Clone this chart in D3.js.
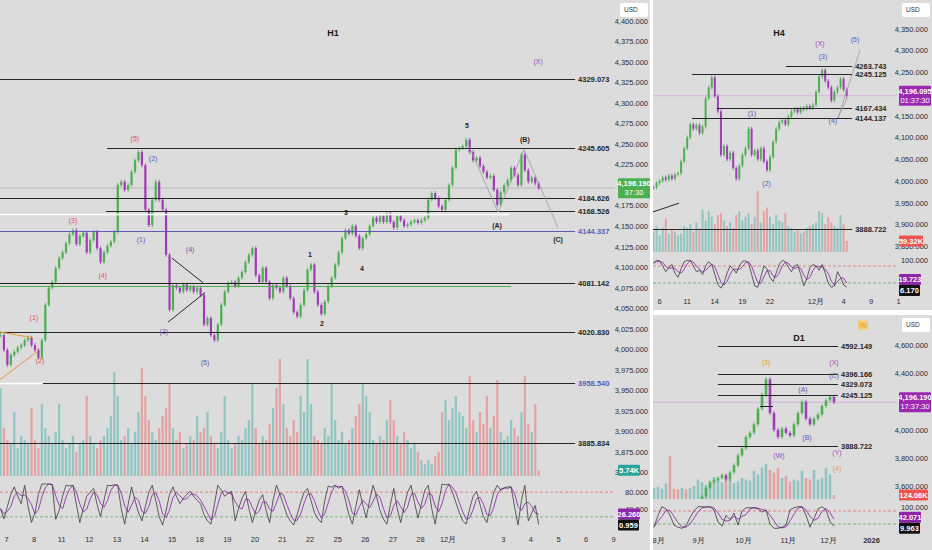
<!DOCTYPE html>
<html>
<head>
<meta charset="utf-8">
<script src="https://cdn.jsdelivr.net/npm/d3@7"></script>
<style>
  html, body { margin: 0; padding: 0; background: #ffffff; }
  svg { display: block; }
</style>
</head>
<body>
<div id="chart"></div>
<script>
// ---- H1 data, 8 bars per trading day ----
var h1Closes = [
  4017, 3999, 3981, 3993, 3997, 4002, 4005, 4011, 4014, 4005,
  3999, 3990, 4011, 4054, 4075, 4082, 4099, 4111, 4118, 4129,
  4140, 4145, 4128, 4138, 4142, 4118, 4133, 4143, 4123, 4106,
  4118, 4126, 4131, 4143, 4200, 4204, 4194, 4200, 4216, 4230,
  4240, 4224, 4170, 4151, 4182, 4204, 4182, 4170, 4115, 4048,
  4078, 4075, 4070, 4079, 4072, 4076, 4070, 4075, 4066, 4030,
  4038, 4017, 4011, 4030, 4054, 4070, 4081, 4082, 4077, 4087,
  4094, 4106, 4115, 4123, 4090, 4082, 4099, 4082, 4062, 4078,
  4075, 4070, 4087, 4077, 4062, 4045, 4040, 4054, 4072, 4097,
  4103, 4070, 4054, 4043, 4058, 4077, 4087, 4103, 4118, 4135,
  4145, 4141, 4150, 4138, 4123, 4135, 4140, 4150, 4160, 4155,
  4162, 4155, 4165, 4155, 4148, 4162, 4157, 4150, 4152, 4155,
  4157, 4154, 4157, 4160, 4182, 4190, 4184, 4174, 4170, 4182,
  4200, 4221, 4243, 4245, 4247, 4255, 4240, 4230, 4233, 4223,
  4216, 4209, 4211, 4194, 4176, 4191, 4200, 4206, 4221, 4212,
  4200, 4237, 4218, 4204, 4209, 4202, 4196.19
];
// volume in K
var h1Volume = [
  88, 48, 36, 32, 64, 28, 40, 36, 32, 68,
  36, 28, 72, 48, 40, 32, 44, 72, 36, 28,
  32, 40, 24, 32, 36, 80, 40, 32, 28, 36,
  40, 48, 60, 104, 80, 36, 40, 48, 32, 44,
  64, 108, 80, 56, 44, 36, 48, 60, 68, 92,
  48, 36, 44, 28, 32, 40, 36, 60, 44, 48,
  64, 40, 32, 28, 44, 80, 36, 28, 32, 40,
  36, 48, 56, 92, 48, 32, 40, 36, 52, 68,
  88, 117, 72, 48, 40, 56, 44, 80, 64, 117,
  72, 40, 36, 32, 48, 40, 92, 56, 36, 44,
  32, 36, 48, 60, 72, 92, 80, 64, 36, 32,
  40, 36, 56, 76, 56, 40, 32, 44, 36, 28,
  32, 24, 16, 12, 16, 12, 20, 24, 64, 76,
  56, 68, 80, 64, 60, 48, 100, 56, 44, 64,
  52, 80, 48, 60, 96, 44, 36, 40, 56, 48,
  40, 64, 100, 52, 44, 72, 5.74
];
// stochastic %K
var h1Stoch = [
  40, 15, 45, 75, 93, 70, 52, 97, 45, 6,
  30, 75, 100, 100, 100, 98, 14, 35, 70, 97,
  95, 97, 50, 6, 40, 70, 80, 89, 50, 20,
  60, 97, 96, 98, 97, 40, 2, 50, 93, 60,
  30, 10, 45, 80, 97, 60, 20, 0, 35, 75,
  93, 70, 52, 65, 75, 82, 70, 60, 52, 25,
  10, 2, 50, 97, 85, 70, 78, 82, 10, 40,
  65, 82, 40, 6, 35, 60, 74, 35, 6, 60,
  97, 75, 50, 25, 10, 0, 25, 55, 80, 89,
  60, 30, 15, 6, 60, 95, 92, 97, 90, 95,
  60, 25, 2, 45, 86, 50, 17, 60, 97, 70,
  35, 15, 2, 50, 89, 40, 6, 45, 80, 97,
  55, 17, 50, 85, 97, 40, 2, 55, 100, 98,
  100, 80, 55, 30, 10, 2, 40, 70, 82, 50,
  20, 6, 45, 80, 97, 85, 90, 93, 93, 45,
  0, 60, 97, 10, 30, 47.82, 0.959
];
var h1PriceTicks = [3850, 3875, 3900, 3925, 3950, 3975, 4000, 4025, 4050, 4075, 4100,
  4125, 4150, 4175, 4225, 4250, 4275, 4300, 4325, 4350, 4375, 4400];
var h1StochTicks = [80, 40];
var h1TickDays = [0, 1, 2, 3, 4, 5, 6, 7, 8, 9, 10, 11, 12, 13, 14, 15, 16, 18, 19, 20, 21, 22];
var h1TickLabels = ['7', '8', '11', '12', '13', '14', '15', '18', '19', '20', '21', '22',
  '25', '26', '27', '28', '12月', '3', '4', '5', '6', '9'];

// ---- H4 data, 3 bars per trading day ----
var h4Closes = [
  3985, 3995, 4000, 4008, 4003, 4012, 4005, 4015, 4018, 4045,
  4075, 4100, 4130, 4120, 4128, 4110, 4125, 4190, 4215, 4238,
  4195, 4160, 4060, 4080, 4050, 4065, 4030, 4005, 4035, 4060,
  4075, 4120, 4060, 4070, 4050, 4075, 4045, 4025, 4055, 4090,
  4120, 4135, 4140, 4130, 4148, 4160, 4165, 4158, 4168, 4165,
  4172, 4168, 4175, 4205, 4240, 4255, 4230, 4215, 4185, 4205,
  4215, 4235, 4210, 4196.095
];
var h4Volume = [
  110, 140, 90, 130, 180, 100, 120, 110, 90, 100,
  140, 130, 150, 110, 160, 130, 230, 170, 220, 190,
  150, 200, 210, 170, 140, 160, 130, 200, 220, 170,
  190, 210, 150, 190, 330, 160, 220, 240, 190, 150,
  200, 170, 160, 210, 140, 130, 110, 120, 100, 110,
  130, 140, 150, 160, 220, 210, 150, 190, 160, 140,
  130, 200, 150, 59.32
];
var h4Stoch = [
  90, 100, 98, 80, 60, 75, 85, 55, 40, 70,
  95, 100, 100, 80, 60, 65, 50, 80, 95, 85,
  50, 15, 2, 20, 55, 80, 70, 55, 80, 96,
  98, 90, 50, 10, 5, 40, 80, 70, 40, 25,
  55, 85, 100, 95, 75, 60, 80, 85, 50, 10,
  35, 75, 85, 80, 65, 85, 55, 20, 5, 10,
  60, 40, 13, 6.17
];
var h4PriceTicks = [3850, 3900, 3950, 4000, 4050, 4100, 4150, 4250, 4300, 4350];
var h4StochTicks = [100];
var h4TickDays = [0, 3, 6, 9, 12, 17, 20, 23, 26];
var h4TickLabels = ['6', '11', '14', '19', '22', '12月', '4', '9', '1'];

// ---- D1 data, one bar per 2 trading days ----
var d1Closes = [
  3290, 3360, 3380, 3390, 3350, 3340, 3330, 3380, 3370, 3400,
  3440, 3480, 3530, 3590, 3630, 3645, 3660, 3680, 3650, 3700,
  3750, 3820, 3870, 3950, 3980, 4040, 4150, 4250, 4360, 4120,
  4000, 3950, 4010, 3980, 3960, 4040, 4120, 4200, 4080, 4040,
  4080, 4110, 4170, 4210, 4235, 4196.19
];
var d1Volume = [
  350, 380, 320, 480, 1330, 320, 300, 350, 300, 330,
  400, 600, 520, 430, 540, 680, 600, 520, 650, 600,
  490, 540, 650, 600, 570, 870, 760, 980, 1090, 900,
  820, 950, 650, 710, 540, 600, 570, 870, 650, 600,
  900, 600, 650, 950, 760, 124.06
];
var d1Stoch = [
  5, 60, 100, 90, 60, 15, 5, 0, 10, 50,
  80, 100, 100, 98, 100, 85, 30, 10, 60, 40,
  70, 15, 80, 95, 95, 95, 90, 75, 85, 20,
  0, 0, 5, 15, 85, 95, 100, 100, 60, 5,
  45, 90, 100, 85, 31.25, 9.963
];
var d1PriceTicks = [3600, 3800, 4000, 4400, 4600];
var d1StochTicks = [100];
var d1TickDays = [1, 21, 43.5, 66, 86, 107.5];
var d1TickLabels = ['8月', '9月', '10月', '11月', '12月', '2026'];

// ---- drawings: levels, wave counts, trend lines ----
var h1Levels = [
  { p: 4329.073, from: -0.3, kind: 'black', label: true },
  { p: 4245.605, from: 3.66, kind: 'black', label: true },
  { p: 4184.626, from: -0.3, kind: 'black', label: true },
  { p: 4165, from: -0.3, to: 18.26, kind: 'white' },
  { p: 4168.526, from: 3.62, kind: 'black', label: true },
  { p: 4144.337, from: -0.3, kind: 'blue', label: true },
  { p: 4081.142, from: -0.3, kind: 'black', label: true },
  { p: 4077, from: -0.3, to: 18.3, kind: 'green' },
  { p: 4020.830, from: -0.3, kind: 'black', label: true },
  { p: 3958.540, from: -0.3, to: 1.34, kind: 'white' },
  { p: 3958.540, from: 1.34, kind: 'black', label: true, labelKind: 'blue' },
  { p: 3885.834, from: -0.3, kind: 'black', label: true }
];
var h1Waves = [
  ['(1)', 1.01, 4039, 'red'], ['(2)', 1.23, 3986, 'red'], ['(3)', 2.43, 4157, 'red'],
  ['(4)', 3.51, 4090, 'red'], ['(5)', 4.67, 4256, 'red'],
  ['(1)', 4.89, 4133, 'blue'], ['(2)', 5.33, 4232, 'blue'], ['(3)', 5.72, 4021, 'blue'],
  ['(4)', 6.67, 4122, 'blue'], ['(5)', 7.21, 3984, 'blue'],
  ['1', 11.01, 4115, 'black'], ['2', 11.45, 4031, 'black'], ['3', 12.32, 4167, 'black'],
  ['4', 12.9, 4098, 'black'], ['5', 16.7, 4272, 'black'],
  ['(A)', 17.79, 4151, 'black'], ['(B)', 18.8, 4255, 'black'], ['(C)', 20, 4134, 'black'],
  ['(X)', 19.28, 4350, 'purple']
];
var h1Paths = [
  { kind: 'gray', pts: [[16.67, 4255], [17.83, 4167], [18.77, 4243], [20, 4148]] },
  { kind: 'black', pts: [[6.01, 4111], [7.14, 4081]] },
  { kind: 'black', pts: [[5.87, 4033], [7.21, 4069]] },
  { kind: 'orange', pts: [[-0.22, 4021], [0.98, 4014]] },
  { kind: 'orange', pts: [[-0.22, 3963], [1.16, 3998]] }
];

var h4Levels = [
  { p: 4263.743, from: 13.8, kind: 'black', label: true },
  { p: 4245.125, from: 3.6, kind: 'black', label: true },
  { p: 4167.434, from: 6.3, kind: 'black', label: true },
  { p: 4144.137, from: 3.6, kind: 'black', label: true },
  { p: 3888.722, from: -0.7, kind: 'black', label: true }
];
var h4Waves = [
  ['(X)', 17.5, 4315, 'purple'], ['(3)', 17.83, 4285, 'blue'], ['(5)', 21.3, 4326, 'blue'],
  ['(1)', 10.1, 4156, 'blue'], ['(4)', 18.9, 4138, 'blue'], ['(2)', 11.7, 3995, 'blue']
];
var h4Paths = [
  { kind: 'black', pts: [[-0.65, 3929], [2.17, 3949]] },
  { kind: 'gray', pts: [[20.5, 4193], [19.46, 4145], [21.85, 4301]] }
];

var d1Levels = [
  { p: 4592.149, from: 31, kind: 'black', label: true },
  { p: 4396.166, from: 31, kind: 'black', label: true },
  { p: 4329.073, from: 31, kind: 'black', label: true },
  { p: 4245.125, from: 31, kind: 'black', label: true },
  { p: 3888.722, from: 31, kind: 'black', label: true },
  { p: 4170, from: 52, to: 58.5, kind: 'black' }
];
var d1Waves = [
  ['(5)', 103.5, 4743, 'orange', true], ['(3)', 55, 4474, 'orange'], ['(X)', 89, 4481, 'purple'],
  ['(C)', 89, 4389, 'blue'], ['(A)', 73.5, 4283, 'blue'], ['(B)', 75.5, 3950, 'blue'],
  ['(W)', 61.5, 3816, 'purple'], ['(Y)', 90.5, 3837, 'purple'], ['(4)', 90.5, 3724, 'orange']
];

var FONT = '"Liberation Sans Narrow", "Liberation Sans", Arial, sans-serif';
var COLORS = {
  bg: '#dcdcdc',
  up: '#4caf50',
  down: '#a23bb8',
  volUp: 'rgba(38,166,154,0.42)',
  volDown: 'rgba(239,83,80,0.42)',
  red: '#e0524f',
  blue: '#5b5bb5',
  black: '#262626',
  purple: '#9b4cc2',
  orange: '#e39b32',
  green: '#4caf50',
  white: '#ffffff',
  gray: '#9a9a9a'
};

var Panel = (function() {
  function Panel(config) {
    var self = this;

    self.config = config;
    self.g = config.svg.append('g')
        .attr('class', config.name);

    // scales
    self.x = d3.scaleLinear()
        .domain([0, 1])
        .range(config.dayRange);
    self.y = d3.scaleLinear()
        .domain(config.priceDomain)
        .range(config.priceRange);
    self.yVol = d3.scaleLinear()
        .domain(config.volDomain)
        .range(config.volRange);
    self.yStoch = d3.scaleLinear()
        .domain([0, 100])
        .range(config.stochRange);

    // bars, open = previous close
    self.bars = config.closes.map(function(c, i) {
      return {
        t: config.tStart + i * config.tStep,
        o: i ? config.closes[i - 1] : c,
        c: c,
        v: config.volume[i],
        k: config.stoch[i]
      };
    });
    // %D is 3 bar mean of %K
    self.bars.forEach(function(b, i) {
      b.d = d3.mean(self.bars.slice(Math.max(0, i - 2), i + 1), function(e) {
        return e.k;
      });
    });

    self.draw();
  }

  Panel.prototype.draw = function() {
    var self = this;
    var c = self.config;

    self.g.append('rect')
        .attr('x', c.left)
        .attr('y', c.top)
        .attr('width', c.width)
        .attr('height', c.height)
        .attr('fill', COLORS.bg);

    self.makeClip('price', c.priceClip);
    self.makeClip('stoch', c.stochClip);

    self.drawLastLine();
    self.drawVolume();
    self.drawCandles();
    self.drawStoch();
    self.drawLevels();
    self.drawPaths();
    self.drawWaves();
    self.drawAxes();
    self.drawBadges();
    self.drawTitle();
  };

  Panel.prototype.makeClip = function(part, ys) {
    var self = this;
    var c = self.config;

    c.defs.append('clipPath')
        .attr('id', c.name + '-' + part)
        .append('rect')
            .attr('x', c.plotLeft)
            .attr('y', ys[0])
            .attr('width', c.plotRight - c.plotLeft)
            .attr('height', ys[1] - ys[0]);
  };

  Panel.prototype.barWidth = function() {
    var self = this;
    var step = self.x(self.config.tStep) - self.x(0);
    return Math.max(1.4, step * 0.64);
  };

  Panel.prototype.drawLastLine = function() {
    var self = this;
    var c = self.config;
    var last = self.bars[self.bars.length - 1];

    self.g.append('line')
        .attr('x1', c.plotLeft)
        .attr('x2', c.plotRight)
        .attr('y1', self.y(last.c))
        .attr('y2', self.y(last.c))
        .attr('stroke', c.lastLineColor)
        .attr('stroke-width', 0.8);
  };

  Panel.prototype.drawVolume = function() {
    var self = this;
    var c = self.config;
    var w = self.barWidth();

    self.g.append('g')
        .attr('clip-path', 'url(#' + c.name + '-price)')
        .selectAll('rect')
        .data(self.bars)
        .enter()
        .append('rect')
            .attr('x', function(d) { return self.x(d.t) - w / 2; })
            .attr('y', function(d) { return self.yVol(d.v); })
            .attr('width', w)
            .attr('height', function(d) { return self.yVol(0) - self.yVol(d.v); })
            .attr('fill', function(d) { return d.c >= d.o ? COLORS.volUp : COLORS.volDown; });
  };

  Panel.prototype.drawCandles = function() {
    var self = this;
    var c = self.config;
    var w = self.barWidth();
    var color = function(d) { return d.c >= d.o ? COLORS.up : COLORS.down; };

    var bar = self.g.append('g')
        .attr('clip-path', 'url(#' + c.name + '-price)')
        .selectAll('g')
        .data(self.bars)
        .enter()
        .append('g');

    // wick
    bar.append('line')
        .attr('x1', function(d) { return self.x(d.t); })
        .attr('x2', function(d) { return self.x(d.t); })
        .attr('y1', function(d) { return self.y(Math.max(d.o, d.c)) - 2; })
        .attr('y2', function(d) { return self.y(Math.min(d.o, d.c)) + 2; })
        .attr('stroke', color)
        .attr('stroke-width', 0.8);

    // body
    bar.append('rect')
        .attr('x', function(d) { return self.x(d.t) - w / 2; })
        .attr('y', function(d) { return self.y(Math.max(d.o, d.c)); })
        .attr('width', w)
        .attr('height', function(d) {
          return Math.max(1, Math.abs(self.y(d.o) - self.y(d.c)));
        })
        .attr('fill', color);
  };

  Panel.prototype.drawStoch = function() {
    var self = this;
    var c = self.config;

    var g = self.g.append('g')
        .attr('clip-path', 'url(#' + c.name + '-stoch)');

    // bands
    [[80, '#e57373'], [20, '#5fae63']].forEach(function(b) {
      g.append('line')
          .attr('x1', c.plotLeft)
          .attr('x2', c.plotRight)
          .attr('y1', self.yStoch(b[0]))
          .attr('y2', self.yStoch(b[0]))
          .attr('stroke', b[1])
          .attr('stroke-width', 0.8)
          .attr('stroke-dasharray', '3,2');
    });

    var lineD = d3.line()
        .x(function(d) { return self.x(d.t); })
        .y(function(d) { return self.yStoch(d.d); });
    var lineK = d3.line()
        .x(function(d) { return self.x(d.t); })
        .y(function(d) { return self.yStoch(d.k); });

    g.append('path')
        .attr('d', lineD(self.bars))
        .attr('fill', 'none')
        .attr('stroke', '#9c3fb8')
        .attr('stroke-width', 1);
    g.append('path')
        .attr('d', lineK(self.bars))
        .attr('fill', 'none')
        .attr('stroke', '#3a3a3a')
        .attr('stroke-width', 0.8);
  };

  Panel.prototype.drawLevels = function() {
    var self = this;
    var c = self.config;

    c.levels.forEach(function(l) {
      var to = l.to !== undefined ? l.to : c.levelEnd;
      var y = Math.round(self.y(l.p)) + 0.5;

      self.g.append('line')
          .attr('x1', Math.max(c.plotLeft, self.x(l.from)))
          .attr('x2', self.x(to))
          .attr('y1', y)
          .attr('y2', y)
          .attr('stroke', COLORS[l.kind])
          .attr('stroke-width', l.kind == 'white' ? 1.6 : 1);

      if(l.label) {
        self.g.append('text')
            .attr('x', self.x(to) + 3)
            .attr('y', y)
            .attr('dy', '0.35em')
            .style('font-family', FONT)
            .style('font-size', '7.5px')
            .style('font-weight', 'bold')
            .attr('fill', COLORS[l.labelKind || l.kind])
            .text(d3.format('.3f')(l.p));
      }
    });
  };

  Panel.prototype.drawPaths = function() {
    var self = this;
    var c = self.config;
    var line = d3.line()
        .x(function(d) { return self.x(d[0]); })
        .y(function(d) { return self.y(d[1]); });

    c.paths.forEach(function(p) {
      self.g.append('path')
          .attr('d', line(p.pts))
          .attr('fill', 'none')
          .attr('stroke', COLORS[p.kind])
          .attr('stroke-width', p.kind == 'gray' ? 0.8 : 1);
    });
  };

  Panel.prototype.drawWaves = function() {
    var self = this;
    var c = self.config;

    // boxed labels
    c.waves.filter(function(d) { return d[4]; }).forEach(function(d) {
      self.g.append('rect')
          .attr('x', self.x(d[1]) - 5)
          .attr('y', self.y(d[2]) - 4.5)
          .attr('width', 10)
          .attr('height', 9)
          .attr('fill', '#f3c969');
    });

    self.g.append('g')
        .selectAll('text')
        .data(c.waves)
        .enter()
        .append('text')
            .attr('x', function(d) { return self.x(d[1]); })
            .attr('y', function(d) { return self.y(d[2]); })
            .attr('dy', '0.35em')
            .style('text-anchor', 'middle')
            .style('font-family', FONT)
            .style('font-size', function(d) { return d[4] ? '5.5px' : '7px'; })
            .style('font-weight', function(d) { return d[3] == 'black' ? 'bold' : 'normal'; })
            .attr('fill', function(d) { return COLORS[d[3]]; })
            .text(function(d) { return d[0]; });
  };

  Panel.prototype.drawAxes = function() {
    var self = this;
    var c = self.config;
    var style = function(g) {
      g.select('.domain').remove();
      g.attr('font-family', FONT)
          .attr('font-size', 7.5);
      g.selectAll('text').attr('fill', '#2e2e2e');
    };

    // price axis
    self.g.append('g')
        .attr('transform', 'translate(' + c.axisX + ',0)')
        .call(d3.axisLeft(self.y)
            .tickValues(c.priceTicks)
            .tickSize(0)
            .tickPadding(0)
            .tickFormat(d3.format(',.3f')))
        .call(style);

    // stoch axis
    self.g.append('g')
        .attr('transform', 'translate(' + c.axisX + ',0)')
        .call(d3.axisLeft(self.yStoch)
            .tickValues(c.stochTicks)
            .tickSize(0)
            .tickPadding(0)
            .tickFormat(d3.format('.3f')))
        .call(style);

    // time axis
    self.g.append('g')
        .attr('transform', 'translate(0,' + c.timeAxisY + ')')
        .call(d3.axisBottom(self.x)
            .tickValues(c.tickDays)
            .tickSize(0)
            .tickPadding(2)
            .tickFormat(function(d, i) { return c.tickLabels[i]; }))
        .call(style)
        .selectAll('text')
            .style('font-weight', function(d, i) {
              return c.tickLabels[i] == '2026' ? 'bold' : 'normal';
            });
  };

  Panel.prototype.badge = function(y, w, fill, lines) {
    var self = this;
    var c = self.config;
    var h = lines.length * 9 + 2;

    self.g.append('rect')
        .attr('x', c.badgeX)
        .attr('y', y - h / 2)
        .attr('width', w)
        .attr('height', h)
        .attr('rx', 1)
        .attr('fill', fill);
    lines.forEach(function(t, i) {
      self.g.append('text')
          .attr('x', c.badgeX + w / 2)
          .attr('y', y - h / 2 + 1 + i * 9 + 4.5)
          .attr('dy', '0.35em')
          .style('text-anchor', 'middle')
          .style('font-family', FONT)
          .style('font-size', '7.5px')
          .style('font-weight', i ? 'normal' : 'bold')
          .attr('fill', '#ffffff')
          .text(t);
    });
  };

  Panel.prototype.drawBadges = function() {
    var self = this;
    var c = self.config;
    var last = self.bars[self.bars.length - 1];

    self.badge(self.y(last.c), c.badgeW, c.priceBadge,
        [d3.format(',.3f')(last.c), c.countdown]);
    self.badge(self.yVol(last.v), c.volBadgeW, c.volBadge,
        [d3.format('.2f')(last.v) + 'K']);

    // keep the two stoch badges apart
    var dY = self.yStoch(last.d);
    var kY = self.yStoch(last.k);
    if(Math.abs(kY - dY) < 11) {
      var mid = (kY + dY) / 2;
      dY = mid - 5.5;
      kY = mid + 5.5;
    }
    self.badge(dY, 22, '#8e24aa', [d3.format('.3f')(last.d)]);
    self.badge(kY, 21, '#111111', [d3.format('.3f')(last.k)]);

    // currency box
    self.g.append('rect')
        .attr('x', c.usd[0])
        .attr('y', c.usd[1])
        .attr('width', 28)
        .attr('height', 14)
        .attr('rx', 2)
        .attr('fill', '#ffffff');
    self.g.append('text')
        .attr('x', c.usd[0] + 4)
        .attr('y', c.usd[1] + 7)
        .attr('dy', '0.35em')
        .style('font-family', FONT)
        .style('font-size', '6.5px')
        .attr('fill', '#333333')
        .text('USD');
  };

  Panel.prototype.drawTitle = function() {
    var self = this;
    var c = self.config;

    self.g.append('text')
        .attr('x', c.titleAt[0])
        .attr('y', c.titleAt[1])
        .attr('dy', '0.35em')
        .style('text-anchor', 'middle')
        .style('font-family', '"Liberation Sans", Arial, sans-serif')
        .style('font-size', '9px')
        .style('font-weight', 'bold')
        .attr('fill', '#1a1a1a')
        .text(c.title);
  };

  return Panel;
})();

var svg = d3.select('#chart')
    .append('svg')
        .attr('width', 932)
        .attr('height', 550);
svg.append('rect')
    .attr('width', 932)
    .attr('height', 550)
    .attr('fill', '#ffffff');
var defs = svg.append('defs');

new Panel({
  svg: svg, defs: defs, name: 'h1', title: 'H1', titleAt: [333, 33],
  left: 0, top: 0, width: 650, height: 550,
  plotLeft: 0, plotRight: 615,
  dayRange: [6, 33.6], tStart: -0.2, tStep: 1 / 8,
  priceDomain: [4200, 4000], priceRange: [185, 349.26], priceClip: [0, 478],
  priceTicks: h1PriceTicks,
  volDomain: [0, 117], volRange: [476, 359],
  stochRange: [525, 484], stochClip: [479, 530], stochTicks: h1StochTicks,
  tickDays: h1TickDays, tickLabels: h1TickLabels, timeAxisY: 535,
  closes: h1Closes, volume: h1Volume, stoch: h1Stoch,
  levels: h1Levels, levelEnd: 20.62, waves: h1Waves, paths: h1Paths,
  axisX: 648, badgeX: 618, badgeW: 32, volBadgeW: 22, usd: [620, 3],
  lastLineColor: '#b4b4b4', priceBadge: '#4caf50', volBadge: '#26a69a', countdown: '37:30'
});

new Panel({
  svg: svg, defs: defs, name: 'h4', title: 'H4', titleAt: [779, 33],
  left: 653, top: 0, width: 279, height: 310,
  plotLeft: 653, plotRight: 897,
  dayRange: [659, 668.2], tStart: -0.6, tStep: 1 / 3,
  priceDomain: [4200, 4000], priceRange: [94, 181], priceClip: [0, 253],
  priceTicks: h4PriceTicks,
  volDomain: [0, 335], volRange: [252, 190],
  stochRange: [288.7, 260.3], stochClip: [256, 292], stochTicks: h4StochTicks,
  tickDays: h4TickDays, tickLabels: h4TickLabels, timeAxisY: 297,
  closes: h4Closes, volume: h4Volume, stoch: h4Stoch,
  levels: h4Levels, levelEnd: 21, waves: h4Waves, paths: h4Paths,
  axisX: 928, badgeX: 899, badgeW: 32, volBadgeW: 24, usd: [902, 3],
  lastLineColor: '#cfa9df', priceBadge: '#9c27b0', volBadge: '#ef5350', countdown: '01:37:30'
});

new Panel({
  svg: svg, defs: defs, name: 'd1', title: 'D1', titleAt: [799, 338],
  left: 653, top: 315, width: 279, height: 235,
  plotLeft: 653, plotRight: 897,
  dayRange: [656, 658], tStart: -1, tStep: 2,
  priceDomain: [4000, 3600], priceRange: [430, 486.5], priceClip: [316, 499],
  priceTicks: d1PriceTicks,
  volDomain: [0, 1330], volRange: [499, 456],
  stochRange: [528.3, 506.7], stochClip: [502, 533], stochTicks: d1StochTicks,
  tickDays: d1TickDays, tickLabels: d1TickLabels, timeAxisY: 536,
  closes: d1Closes, volume: d1Volume, stoch: d1Stoch,
  levels: d1Levels, levelEnd: 91, waves: d1Waves, paths: [],
  axisX: 928, badgeX: 899, badgeW: 32, volBadgeW: 29, usd: [902, 318],
  lastLineColor: '#cfa9df', priceBadge: '#9c27b0', volBadge: '#ef5350', countdown: '17:37:30'
});

// panel separators
svg.append('rect')
    .attr('x', 650)
    .attr('y', 0)
    .attr('width', 3)
    .attr('height', 550)
    .attr('fill', '#ffffff');
svg.append('rect')
    .attr('x', 650)
    .attr('y', 310)
    .attr('width', 282)
    .attr('height', 5)
    .attr('fill', '#ffffff');
</script>
</body>
</html>
